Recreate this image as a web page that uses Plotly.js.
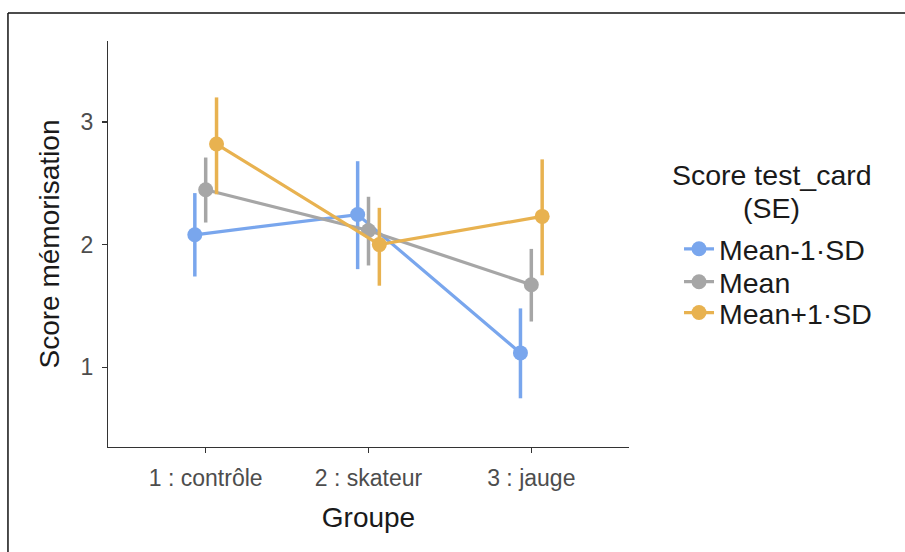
<!DOCTYPE html>
<html>
<head>
<meta charset="utf-8">
<script src="https://cdn.plot.ly/plotly-3.0.1.min.js"></script>
<style>html,body{margin:0;padding:0;background:#fff;}#chart{width:905px;height:552px;}</style>
</head>
<body>
<div id="chart"></div>
<script>
// Data
const groups = ["1 : contrôle", "2 : skateur", "3 : jauge"];
const seriesNames = ["Mean-1·SD", "Mean", "Mean+1·SD"];
const legendTitleLines = ["Score test_card", "(SE)"];
const meanLow = [2.08, 2.245, 1.117];
const lowLo = [1.74, 1.80, 0.747];
const lowHi = [2.42, 2.68, 1.48];
const meanMid = [2.447, 2.115, 1.673];
const midLo = [2.18, 1.83, 1.373];
const midHi = [2.71, 2.39, 1.965];
const meanHigh = [2.82, 2.00, 2.23];
const highLo = [2.41, 1.665, 1.75];
const highHi = [3.20, 2.30, 2.695];

const colors = ["#79a6ed", "#a6a6a6", "#e8b250"];
const values = [meanLow, meanMid, meanHigh];
const los = [lowLo, midLo, highLo];
const his = [lowHi, midHi, highHi];
const legendIds = ["legend", "legend2", "legend3"];

const traces = values.map((v, i) => ({
  type: "scatter",
  mode: "lines+markers",
  name: seriesNames[i],
  legend: legendIds[i],
  x: groups,
  y: v,
  line: {color: colors[i], width: 3.2},
  marker: {color: colors[i], size: 15},
  error_y: {
    type: "data",
    symmetric: false,
    array: his[i].map((h, k) => h - v[k]),
    arrayminus: v.map((m, k) => m - los[i][k]),
    color: colors[i],
    thickness: 3.5,
    width: 0
  }
}));

const font = "Liberation Sans, Arial, sans-serif";
const legFont = {size: 28.5, color: "#1a1a1a", family: font};
const legendYs = [0.487, 0.406, 0.330];
function legendAt(y) {
  return {x: 1.096, y: y, xanchor: "left", yanchor: "middle", font: legFont, bgcolor: "rgba(0,0,0,0)"};
}

const layout = {
  width: 905, height: 552,
  margin: {l: 108, r: 276, t: 41, b: 105},
  paper_bgcolor: "#fff", plot_bgcolor: "#fff",
  font: {family: font},
  scattermode: "group",
  scattergap: 0.8,
  showlegend: true,
  xaxis: {
    type: "category",
    range: [-0.6, 2.6],
    showline: true, linecolor: "#333", linewidth: 1.2,
    showgrid: false, zeroline: false,
    ticks: "outside", ticklen: 5, tickwidth: 1.5, tickcolor: "#333",
    ticklabelstandoff: 5,
    tickfont: {size: 23, color: "#4d4d4d", family: font},
    title: {text: "Groupe", font: {size: 28, color: "#1a1a1a", family: font}, standoff: 17}
  },
  yaxis: {
    range: [0.35, 3.66],
    tickvals: [1, 2, 3],
    showline: true, linecolor: "#333", linewidth: 1.2,
    showgrid: false, zeroline: false,
    ticks: "outside", ticklen: 5, tickwidth: 1.5, tickcolor: "#333",
    ticklabelstandoff: 4,
    tickfont: {size: 23, color: "#4d4d4d", family: font},
    title: {text: "Score mémorisation", font: {size: 28, color: "#1a1a1a", family: font}, standoff: 12}
  },
  legend: legendAt(legendYs[0]),
  legend2: legendAt(legendYs[1]),
  legend3: legendAt(legendYs[2]),
  annotations: [
    {xref: "paper", yref: "paper", x: 1.274, y: (447 - 175) / 406, xanchor: "center", yanchor: "middle",
     text: legendTitleLines[0], showarrow: false, font: legFont},
    {xref: "paper", yref: "paper", x: 1.274, y: (447 - 208) / 406, xanchor: "center", yanchor: "middle",
     text: legendTitleLines[1], showarrow: false, font: legFont}
  ],
  shapes: [
    {type: "line", xref: "paper", yref: "paper", x0: -0.192, x1: 1.6, y0: 1.069, y1: 1.069, line: {color: "#111", width: 1.5}},
    {type: "line", xref: "paper", yref: "paper", x0: -0.192, x1: -0.192, y0: 1.069, y1: -0.4, line: {color: "#111", width: 1.5}}
  ]
};

Plotly.newPlot("chart", traces, layout, {displayModeBar: false, staticPlot: true});
</script>
</body>
</html>
